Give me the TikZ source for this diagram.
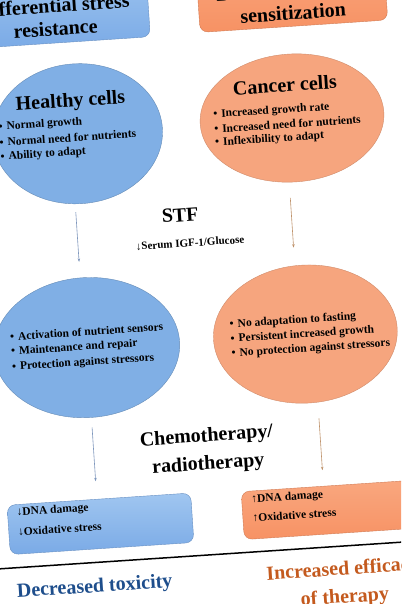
\documentclass[tikz,border=0pt]{standalone}
\usepackage{fontspec}
\setmainfont{Liberation Serif}
\usetikzlibrary{shapes.geometric,arrows.meta}
\definecolor{ellblue}{RGB}{128,175,229}
\definecolor{ellorange}{RGB}{246,165,126}
\definecolor{boxblue}{RGB}{122,170,230}
\definecolor{boxbluelt}{RGB}{160,198,240}
\definecolor{boxorange}{RGB}{247,146,100}
\definecolor{boxorangelt}{RGB}{249,168,128}
\definecolor{arrblue}{RGB}{125,150,188}
\definecolor{arrbrown}{RGB}{190,145,105}
\definecolor{toxblue}{RGB}{30,78,140}
\definecolor{effbrown}{RGB}{196,90,30}
\newcommand\mybul{\textbullet\hspace{4pt}}
\tikzset{
  blueell/.style={ellipse, fill=ellblue, draw=ellblue!80!black, line width=0.4pt, inner sep=0pt},
  orangeell/.style={ellipse, fill=ellorange, draw=ellorange!85!black, line width=0.4pt, inner sep=0pt},
  bluebox/.style={rectangle, rounded corners=8pt, top color=boxbluelt, bottom color=boxblue, draw=boxblue!85!black, line width=0.4pt, inner sep=0pt},
  orangebox/.style={rectangle, rounded corners=8pt, top color=boxorangelt, bottom color=boxorange, draw=boxorange!85!black, line width=0.4pt, inner sep=0pt},
  head/.style={font=\fontsize{20}{23}\selectfont\bfseries, align=center, inner sep=0pt},
  bigtext/.style={font=\fontsize{20}{28}\selectfont\bfseries, align=center, inner sep=0pt},
  bul/.style={font=\fontsize{11.5}{12}\selectfont\bfseries, anchor=west, inner sep=0pt},
  smalltxt/.style={font=\fontsize{11.5}{12}\selectfont\bfseries, anchor=west, inner sep=0pt},
  arrB/.style={draw=arrblue, line width=0.6pt, -{Stealth[length=3.5pt,width=2.5pt]}},
  arrO/.style={draw=arrbrown, line width=0.6pt, -{Stealth[length=3.5pt,width=2.5pt]}},
}
\begin{document}
\begin{tikzpicture}[x=1pt,y=-1pt]
\useasboundingbox (0,0) rectangle (401,604);
\fill[white] (0,0) rectangle (401,604);
\clip (0,0) rectangle (401,604);
\begin{scope}[rotate around={3.8:(200,302)}, transform shape]
% top boxes
\node[bluebox, minimum width=198pt, minimum height=74pt] (tl) at (69,-3) {};
\node[head] (tlt) at (74,8) {Differential stress\\resistance};
\node[orangebox, minimum width=188pt, minimum height=73pt] (tr) at (312,-3.5) {};
\node[head] (trt) at (312,8) {Differential stress\\sensitization};
% first ellipses
\node[blueell, minimum width=170pt, minimum height=140pt] (healthy) at (89,126) {};
\node[head] (ht) at (84,94) {Healthy cells};
\node[bul] (h1) at (10.5,114.5) {\mybul Normal growth};
\node[bul] (h2) at (10.5,129.5) {\mybul Normal need for nutrients};
\node[bul] (h3) at (10.5,144.5) {\mybul Ability to adapt};
\node[orangeell, minimum width=184pt, minimum height=128pt] (cancer) at (304,124.5) {};
\node[head] (ct) at (299,91) {Cancer cells};
\node[bul] (c1) at (225.5,116.3) {\mybul Increased growth rate};
\node[bul] (c2) at (225.5,130.3) {\mybul Increased need for nutrients};
\node[bul] (c3) at (225.5,144.4) {\mybul Inflexibility to adapt};
% STF
\node[head] (stf) at (186,214) {STF};
\node[smalltxt, font=\fontsize{11}{12}\selectfont\bfseries, anchor=center] (serum) at (194,242.5) {\textmd{↓}Serum IGF-1/Glucose};
\coordinate (a1s) at (82,204);
\coordinate (a1e) at (82,254);
\coordinate (a2s) at (297,204);
\coordinate (a2e) at (297,254);
\draw[arrB] (a1s) -- (a1e);
\draw[arrO] (a2s) -- (a2e);
% second ellipses
\node[blueell, minimum width=186pt, minimum height=140pt] (hfast) at (84,340) {};
\node[bul] (b1) at (8,324) {\mybul Activation of nutrient sensors};
\node[bul] (b2) at (8,339.5) {\mybul Maintenance and repair};
\node[bul] (b3) at (8,355) {\mybul Protection against stressors};
\node[orangeell, minimum width=184pt, minimum height=138pt] (cfast) at (303,341) {};
\node[bul] (o1) at (228,327) {\mybul No adaptation to fasting};
\node[bul] (o2) at (228,341.5) {\mybul Persistent increased growth};
\node[bul] (o3) at (228,356) {\mybul No protection against stressors};
% chemo
\node[bigtext] (chemo) at (197.5,451) {Chemotherapy/\\radiotherapy};
\coordinate (a3s) at (84,420);
\coordinate (a3e) at (84,474);
\coordinate (a4s) at (311,426);
\coordinate (a4e) at (311,478);
\draw[arrB] (a3s) -- (a3e);
\draw[arrO] (a4s) -- (a4e);
% bottom boxes
\node[bluebox, minimum width=184pt, minimum height=49.5pt] (lb) at (86,516.75) {};
\node[smalltxt] (lb1) at (3,500.4) {\textmd{↓}DNA damage};
\node[smalltxt] (lb2) at (3,519.4) {\textmd{↓}Oxidative stress};
\node[orangebox, minimum width=213pt, minimum height=48pt] (rb) at (335,518) {};
\node[smalltxt] (rb1) at (238,503) {\textmd{↑}DNA damage};
\node[smalltxt] (rb2) at (238,521) {\textmd{↑}Oxidative stress};
% divider
\coordinate (dl) at (-40,555);
\coordinate (dr) at (450,555);
\draw[line width=1.5pt] (dl) -- (dr);
% outcomes
\node[head, text=toxblue] (tox) at (76,580) {Decreased toxicity};
\node[bigtext, text=effbrown] (eff) at (325,593) {Increased efficacy\\of therapy};
\end{scope}
\end{tikzpicture}
\end{document}
